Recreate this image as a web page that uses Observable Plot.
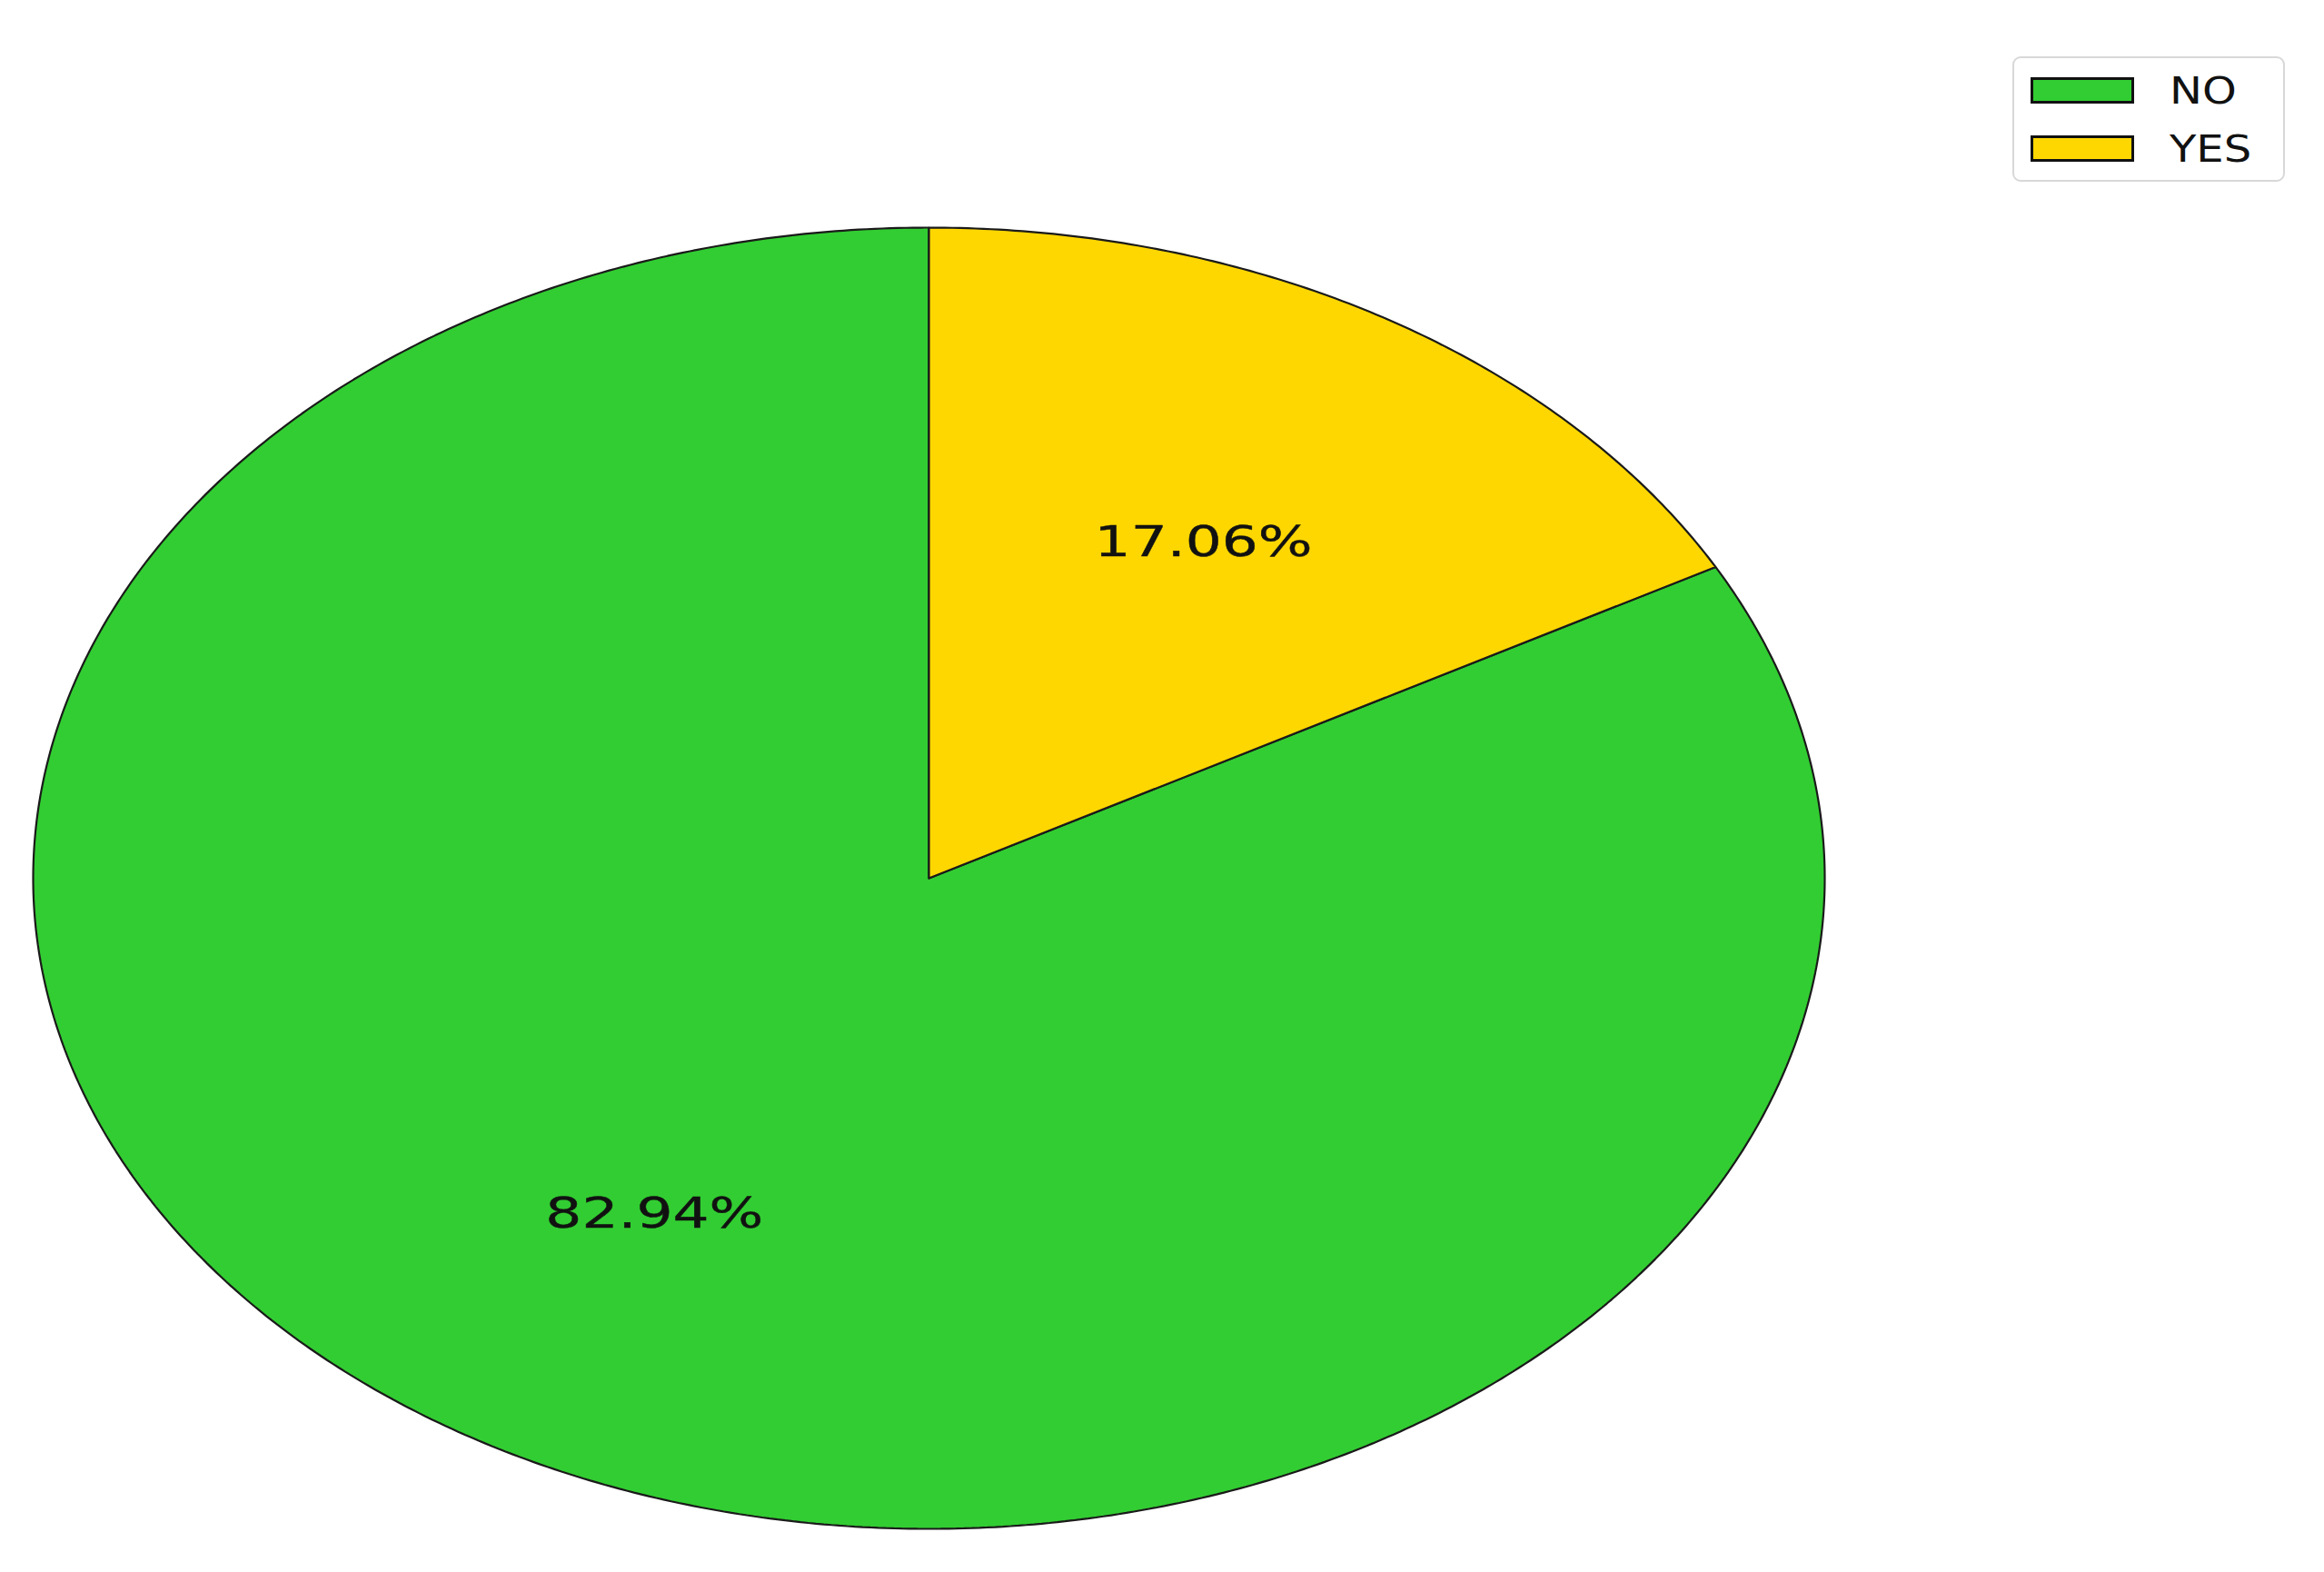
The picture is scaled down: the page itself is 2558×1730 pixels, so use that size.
<!DOCTYPE html>
<html>
<head>
<meta charset="utf-8">
<script src="https://cdn.jsdelivr.net/npm/d3@7"></script>
<script src="https://cdn.jsdelivr.net/npm/@observablehq/plot@0.6"></script>
<style>
  html, body { margin: 0; padding: 0; background: #fff; }
  #wrap { position: relative; width: 2558px; height: 1730px; overflow: hidden; }
  #legend { position: absolute; left: 2215px; top: 62px; width: 300px; height: 138px;
    border: 2px solid #d8d8d8; border-radius: 9px; background: #fff; box-sizing: border-box; }
  .sw { position: absolute; left: 18px; width: 114px; height: 29px; border: 3px solid #111; box-sizing: border-box; }
  .lt { position: absolute; left: 171px; font-family: "DejaVu Sans", sans-serif; font-size: 40px; color: #111;
    transform: scaleX(1.2); transform-origin: left center; line-height: 1; }
</style>
</head>
<body>
<div id="wrap"></div>
<script>
const categories = ["NO", "YES"];
const values = [82.94, 17.06];
const colors = ["#32CD32", "#FFD700"];

// Build pie geometry (matplotlib style: start at 90°, counter-clockwise)
const total = d3.sum(values);
const polyRows = [];
const labelRows = [];
let theta = Math.PI / 2;
categories.forEach((cat, i) => {
  const sweep = values[i] / total * 2 * Math.PI;
  const t0 = theta, t1 = theta + sweep;
  polyRows.push({cat, x: 0, y: 0});
  const n = Math.max(4, Math.ceil(sweep / (2 * Math.PI) * 720));
  for (let k = 0; k <= n; k++) {
    const t = t0 + (t1 - t0) * k / n;
    polyRows.push({cat, x: Math.cos(t), y: Math.sin(t)});
  }
  polyRows.push({cat, x: 0, y: 0});
  const mid = (t0 + t1) / 2;
  labelRows.push({cat, x: 0.6 * Math.cos(mid), y: 0.6 * Math.sin(mid), text: values[i].toFixed(2) + "%"});
  theta = t1;
});

const plot = Plot.plot({
  width: 2558,
  height: 1730,
  marginLeft: 36,
  marginRight: 550,
  marginTop: 250,
  marginBottom: 48,
  x: {domain: [-1, 1], axis: null},
  y: {domain: [-1, 1], axis: null},
  color: {domain: categories, range: colors},
  style: {background: "#fff"},
  marks: [
    Plot.line(polyRows, {x: "x", y: "y", z: "cat", fill: "cat", stroke: "#1a1a1a", strokeWidth: 2.2, curve: "linear", strokeLinejoin: "miter"}),
    Plot.text(labelRows, {x: "x", y: "y", text: "text", fontSize: 47, fontFamily: "DejaVu Sans", fill: "#111", stroke: "#111", strokeWidth: 0.4, textAnchor: "middle"})
  ]
});

// stretch labels horizontally like the reference
d3.select(plot).selectAll('g[aria-label="text"] text').each(function() {
  const tr = this.getAttribute("transform");
  if (tr) {
    this.setAttribute("transform", tr + " scale(1.34,1)");
  } else {
    const x = this.getAttribute("x") || 0, y = this.getAttribute("y") || 0;
    this.setAttribute("x", 0); this.setAttribute("y", 0);
    this.setAttribute("transform", `translate(${x},${y}) scale(1.34,1)`);
  }
});

const wrap = document.getElementById("wrap");
wrap.appendChild(plot);

// legend
const legend = document.createElement("div");
legend.id = "legend";
categories.forEach((cat, i) => {
  const sw = document.createElement("div");
  sw.className = "sw";
  sw.style.top = (21 + i * 64) + "px";
  sw.style.background = colors[i];
  legend.appendChild(sw);
  const lt = document.createElement("div");
  lt.className = "lt";
  lt.style.top = (16 + i * 64) + "px";
  lt.textContent = cat;
  legend.appendChild(lt);
});
wrap.appendChild(legend);
</script>
</body>
</html>
